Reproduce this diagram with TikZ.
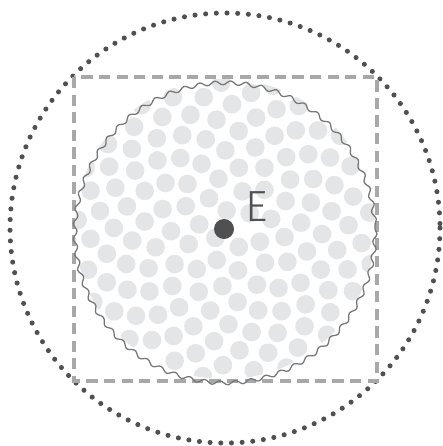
\documentclass[tikz,border=0pt]{standalone}
\usepackage{fontspec}
\setmainfont{Fira Sans}
\newfontfamily\thinfont{Fira Sans Light}
\usetikzlibrary{decorations.pathmorphing,positioning}
\definecolor{dotgray}{HTML}{E4E5E6}
\definecolor{wavegray}{HTML}{777777}
\definecolor{boxgray}{HTML}{A8A8A8}
\definecolor{darkgray}{HTML}{505050}

\begin{document}
\begin{tikzpicture}[
  x=0.025cm, y=-0.025cm,
  orbit/.style={draw=darkgray, line width=3.6pt, line cap=round, dash pattern=on 0pt off 7.6pt},
  frame/.style={draw=boxgray, line width=2.2pt, dash pattern=on 8pt off 4.5pt},
  rim/.style={draw=wavegray, line width=0.9pt, decorate, decoration={snake, amplitude=1.4pt, segment length=11pt}},
  grain/.style={fill=dotgray},
  core/.style={circle, fill=darkgray, inner sep=0pt, minimum size=0.5cm},
]
  \useasboundingbox (0,0) rectangle (442,446);

  % Outer dotted orbit
  \draw[orbit] (225,228) circle[radius=215];

  % Dashed frame
  \draw[frame] (74,77) rectangle (377,381);

  % Disk with spiral pattern
  \fill[white] (225,229) circle[radius=150];
  \begin{scope}
    \clip (225,229) circle[radius=150];
    \foreach \n in {1,...,135} {
      \pgfmathsetmacro{\ang}{10*mod(\n*13.7508,36)}
      \pgfmathsetmacro{\rad}{13.1*sqrt(\n)}
      \fill[grain] ({225+\rad*cos(\ang)},{229+\rad*sin(\ang)}) circle[radius=9.3];
    }
  \end{scope}
  \draw[rim] (225,229) circle[radius=150];

  % Centre
  \node[core] (e) at (224,229) {};
  \node[font=\thinfont\fontsize{31}{31}\selectfont, text=darkgray, anchor=base west, inner sep=0pt] (elabel) at (245,221) {E};
\end{tikzpicture}
\end{document}
